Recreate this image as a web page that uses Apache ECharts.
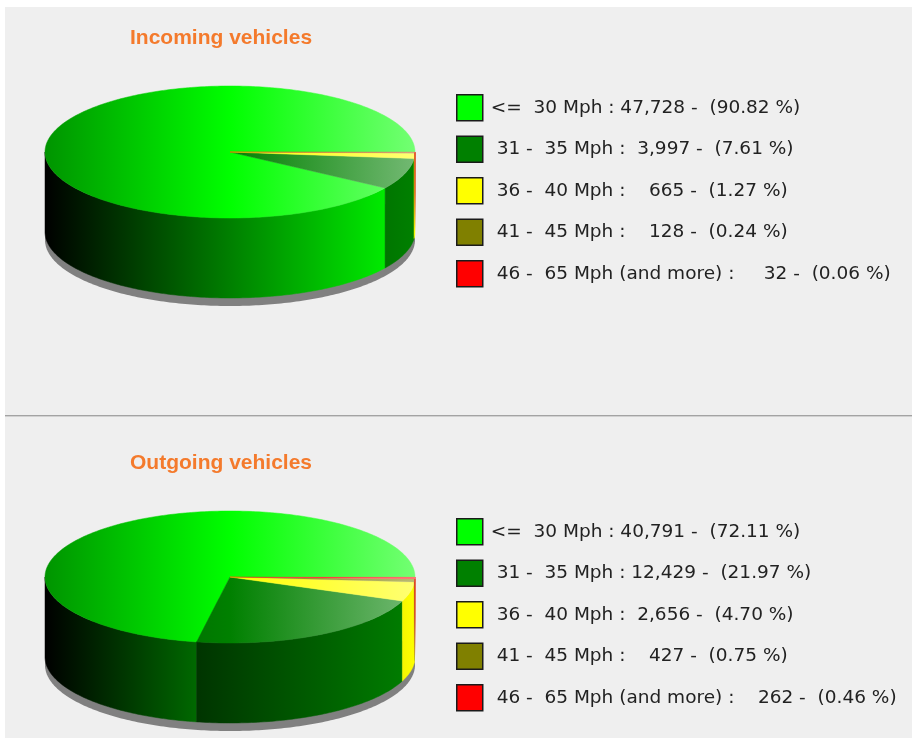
<!DOCTYPE html>
<html>
<head>
<meta charset="utf-8">
<style>
  html, body { margin: 0; padding: 0; background: #fff; }
  #chart { width: 912px; height: 740px; }
</style>
<script src="https://cdn.jsdelivr.net/npm/echarts@6/dist/echarts.min.js"></script>
</head>
<body>
<div id="chart"></div>
<script>
const speedLabels = ['<=  30 Mph', ' 31 -  35 Mph', ' 36 -  40 Mph', ' 41 -  45 Mph', ' 46 -  65 Mph (and more)'];
const sliceColors = [[0, 255, 0], [0, 128, 0], [255, 255, 0], [128, 128, 0], [255, 0, 0]];

const incomingCounts = [47728, 3997, 665, 128, 32];
const incomingCountText = ['47,728', ' 3,997', '   665', '   128', '    32'];
const incomingPercents = ['90.82', '7.61', '1.27', '0.24', '0.06'];

const outgoingCounts = [40791, 12429, 2656, 427, 262];
const outgoingCountText = ['40,791', '12,429', ' 2,656', '   427', '   262'];
const outgoingPercents = ['72.11', '21.97', '4.70', '0.75', '0.46'];

// height of the pie wall and its shadow, in units of the top ellipse's radius
const WALL = 80 / 66;
const SHADOW = 8 / 66;
const ARC_STEP = Math.PI / 180;
// below this angle a wall is narrower than a pixel and only its outline shows
const HAIRLINE = 3 * Math.PI / 180;

function rgb(c) {
  return 'rgb(' + c.map(Math.round).join(',') + ')';
}

function rgba(c, alpha) {
  return 'rgba(' + c.map(Math.round).join(',') + ',' + alpha + ')';
}

function mix(c, target, t) {
  return c.map((v, i) => v + (target[i] - v) * t);
}

function arcAngles(from, to) {
  const angles = [];
  for (let a = from; a < to; a += ARC_STEP) {
    angles.push(a);
  }
  angles.push(to);
  return angles;
}

function horizontalGradient(api, stops) {
  const left = api.coord([-1, 0])[0];
  const right = api.coord([1, 0])[0];
  return new echarts.graphic.LinearGradient(left, 0, right, 0, stops, true);
}

function wallStyle(api, color, from, to) {
  const fill = horizontalGradient(api, [
    {offset: 0, color: 'rgb(0,0,0)'},
    {offset: 1, color: rgb(color)}
  ]);
  if (to - from >= HAIRLINE) {
    return {fill: fill, stroke: fill, lineWidth: 0.5};
  }
  const top = api.coord([0, 0])[1];
  const bottom = api.coord([0, -WALL])[1];
  const tint = mix(color, [255, 255, 255], 0.12);
  return {
    fill: fill,
    lineWidth: 1.2,
    stroke: new echarts.graphic.LinearGradient(0, top, 0, bottom, [
      {offset: 0, color: rgba(tint, 0.95)},
      {offset: 0.5, color: rgba(tint, 0.7)},
      {offset: 1, color: rgba(tint, 0)}
    ], true)
  };
}

function renderSlice(color) {
  return function (params, api) {
    const from = api.value(0) * 2 * Math.PI;
    const to = api.value(1) * 2 * Math.PI;
    const children = [];

    // outer wall, only the front half of the pie shows it
    const wallFrom = Math.max(from, Math.PI);
    if (to > wallFrom) {
      const angles = arcAngles(wallFrom, to);
      const upper = angles.map(a => api.coord([Math.cos(a), Math.sin(a)]));
      const lower = angles.slice().reverse().map(a => api.coord([Math.cos(a), Math.sin(a) - WALL]));
      children.push({
        type: 'polygon',
        shape: {points: upper.concat(lower)},
        style: wallStyle(api, color, wallFrom, to)
      });
    }

    const points = [api.coord([0, 0])];
    arcAngles(from, to).forEach(a => points.push(api.coord([Math.cos(a), Math.sin(a)])));
    const topFill = horizontalGradient(api, [
      {offset: 0, color: rgb(mix(color, [0, 0, 0], 0.42))},
      {offset: 0.5, color: rgb(color)},
      {offset: 1, color: rgb(mix(color, [255, 255, 255], 0.45))}
    ]);
    children.push({
      type: 'polygon',
      shape: {points: points},
      style: {fill: topFill, stroke: topFill, lineWidth: to - from < HAIRLINE ? 0.2 : 0.5}
    });
    return {type: 'group', children: children};
  };
}

function renderShadow(params, api) {
  const points = arcAngles(0, 2 * Math.PI).map(a => api.coord([Math.cos(a), Math.sin(a) - WALL - SHADOW]));
  return {type: 'polygon', shape: {points: points}, style: {fill: '#808080'}};
}

function legendNames(counts, countText, percents) {
  return speedLabels.map((label, i) => label + ' : ' + countText[i] + ' -  (' + percents[i] + ' %)');
}

function pieSeries(gridIndex, counts, names) {
  const total = counts.reduce((sum, v) => sum + v, 0);
  let running = 0;
  const series = [{
    type: 'custom',
    xAxisIndex: gridIndex,
    yAxisIndex: gridIndex,
    silent: true,
    clip: false,
    renderItem: renderShadow,
    data: [[0, 1]],
    encode: {x: 0, y: 1}
  }];
  counts.forEach((count, i) => {
    const start = running / total;
    running += count;
    series.push({
      type: 'custom',
      name: names[i],
      xAxisIndex: gridIndex,
      yAxisIndex: gridIndex,
      silent: true,
      clip: false,
      itemStyle: {color: rgb(sliceColors[i])},
      renderItem: renderSlice(sliceColors[i]),
      data: [[start, running / total]],
      encode: {x: 0, y: 1}
    });
  });
  return series;
}

function hiddenAxis(gridIndex, min) {
  return {type: 'value', gridIndex: gridIndex, min: min, max: 1, show: false};
}

function legendFor(names, top) {
  return {
    data: names,
    orient: 'vertical',
    left: 456,
    top: top,
    padding: 0,
    itemWidth: 26,
    itemHeight: 26,
    itemGap: 14,
    selectedMode: false,
    icon: 'rect',
    itemStyle: {borderColor: '#1a1a1a', borderWidth: 1.5},
    textStyle: {fontFamily: 'DejaVu Sans', fontSize: 18.5, color: '#222', padding: [0, 0, 0, 3]}
  };
}

const incomingNames = legendNames(incomingCounts, incomingCountText, incomingPercents);
const outgoingNames = legendNames(outgoingCounts, outgoingCountText, outgoingPercents);

const titleStyle = {fontFamily: 'Liberation Sans', fontSize: 21, fontWeight: 'bold', color: '#f47a2c'};

const chart = echarts.init(document.getElementById('chart'));
chart.setOption({
  animation: false,
  tooltip: {show: false},
  graphic: [
    {type: 'rect', z: -10, shape: {x: 5, y: 7, width: 907, height: 408}, style: {fill: '#efefef'}},
    {type: 'rect', z: -10, shape: {x: 5, y: 417, width: 907, height: 321}, style: {fill: '#efefef'}},
    {type: 'rect', z: -10, shape: {x: 5, y: 415, width: 907, height: 1.5}, style: {fill: '#a3a3a3'}}
  ],
  title: [
    {text: 'Incoming vehicles', left: 130, top: 28, padding: 0, textStyle: titleStyle},
    {text: 'Outgoing vehicles', left: 130, top: 453, padding: 0, textStyle: titleStyle}
  ],
  legend: [legendFor(incomingNames, 94), legendFor(outgoingNames, 518)],
  grid: [
    {left: 45, width: 370, top: 86, height: 212},
    {left: 45, width: 370, top: 511, height: 212}
  ],
  xAxis: [
    {type: 'value', gridIndex: 0, min: -1, max: 1, show: false},
    {type: 'value', gridIndex: 1, min: -1, max: 1, show: false}
  ],
  yAxis: [hiddenAxis(0, -1 - WALL), hiddenAxis(1, -1 - WALL)],
  series: pieSeries(0, incomingCounts, incomingNames).concat(pieSeries(1, outgoingCounts, outgoingNames))
});
</script>
</body>
</html>
